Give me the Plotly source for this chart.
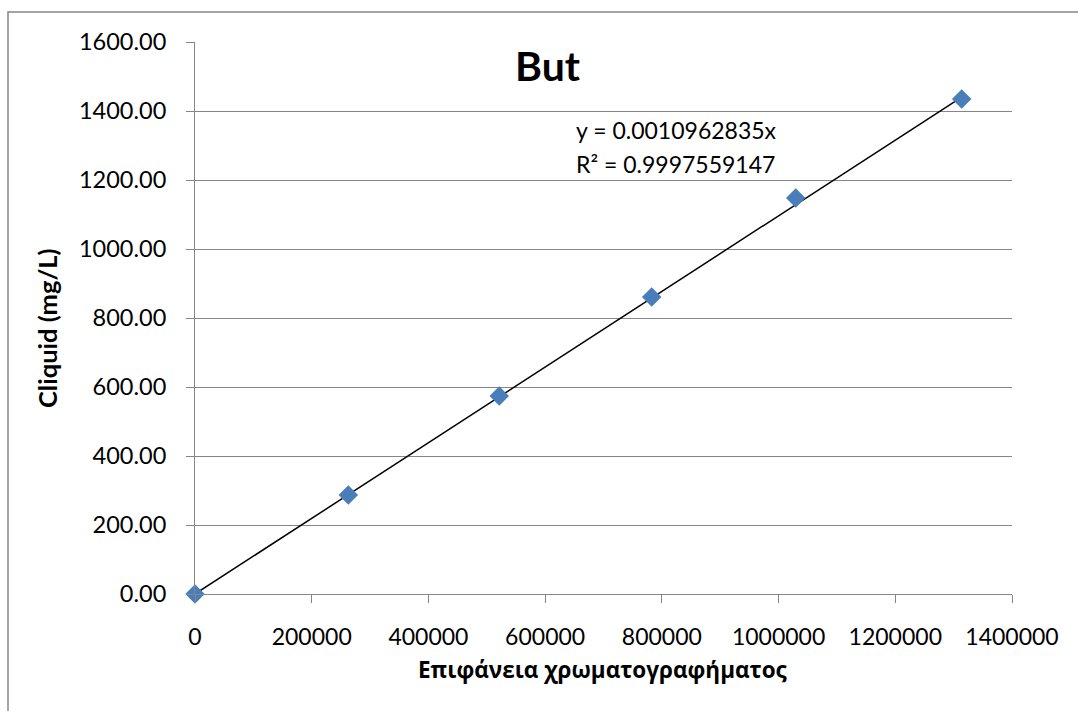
import plotly.graph_objects as go

# Calibration data: chromatogram peak area vs liquid concentration
area = [0, 262700, 521400, 782600, 1029400, 1313800]
conc = [0.0, 287.0, 574.0, 861.0, 1148.0, 1435.0]

slope = 0.0010962835
r2 = 0.9997559147

x_ticks = [0, 200000, 400000, 600000, 800000, 1000000, 1200000, 1400000]
y_ticks = [0, 200, 400, 600, 800, 1000, 1200, 1400, 1600]

W, H = 1078, 711
L, R, T, B = 195, 66, 42, 117
pw, ph = W - L - R, H - T - B


def px(xp):
    return (xp - L) / pw


def py(yp):
    return (H - B - yp) / ph


latin = "Lato, 'Open Sans', sans-serif"
greek = "'Open Sans', 'Noto Sans', sans-serif"
grid = "#868686"

fig = go.Figure()

# linear trendline through the origin
x_fit = [0, max(area)]
y_fit = [slope * v for v in x_fit]
fig.add_trace(go.Scatter(x=x_fit, y=y_fit, mode="lines",
                         line=dict(color="black", width=1.5),
                         hoverinfo="skip", showlegend=False))

fig.add_trace(go.Scatter(x=area, y=conc, mode="markers",
                         marker=dict(symbol="diamond", size=15, color="#4A7EBB",
                                     line=dict(width=0)),
                         showlegend=False, cliponaxis=False))

fig.update_xaxes(range=[0, 1400000], tickvals=x_ticks,
                 ticktext=[str(v) for v in x_ticks],
                 showgrid=False, zeroline=False, showline=True,
                 linecolor=grid, linewidth=1,
                 ticks="outside", ticklen=8, tickcolor=grid, tickwidth=1,
                 ticklabelstandoff=14,
                 tickfont=dict(family=latin, size=23, color="black"))
fig.update_yaxes(range=[0, 1600], tickvals=y_ticks,
                 ticktext=[f"{v:.2f}" for v in y_ticks],
                 showgrid=True, gridcolor=grid, gridwidth=1,
                 zeroline=False, showline=True, linecolor=grid, linewidth=1,
                 ticks="outside", ticklen=8, tickcolor=grid, tickwidth=1,
                 ticklabelstandoff=15,
                 tickfont=dict(family=latin, size=23.5, color="black"))

annotations = [
    dict(text="<b>But</b>", x=px(548), y=py(66), xanchor="center", yanchor="middle",
         font=dict(family=latin, size=41, color="black")),
    dict(text=f"y = {slope:.10f}x", x=px(574), y=py(130), xanchor="left", yanchor="middle",
         font=dict(family=latin, size=23, color="black")),
    dict(text=f"R² = {r2:.10f}", x=px(574), y=py(164), xanchor="left", yanchor="middle",
         font=dict(family=latin, size=23, color="black")),
    dict(text="<b>Επιφάνεια χρωματογραφήματος</b>", x=px(603), y=py(669),
         xanchor="center", yanchor="middle",
         font=dict(family=greek, size=22.5, color="black")),
    dict(text="<b>Cliquid (mg/L)</b>", x=px(47), y=py(328), textangle=-90,
         xanchor="center", yanchor="middle",
         font=dict(family=latin, size=25.5, color="black")),
]
for a in annotations:
    a.update(xref="paper", yref="paper", showarrow=False)

# chart frame
fig.add_shape(type="rect", xref="paper", yref="paper",
              x0=px(8), y0=py(H + 20), x1=px(W + 20), y1=py(12),
              line=dict(color=grid, width=1.5), fillcolor="rgba(0,0,0,0)", layer="above")

fig.update_layout(width=W, height=H, margin=dict(l=L, r=R, t=T, b=B),
                  paper_bgcolor="white", plot_bgcolor="white",
                  annotations=annotations, showlegend=False)

fig.write_html("out.html")
